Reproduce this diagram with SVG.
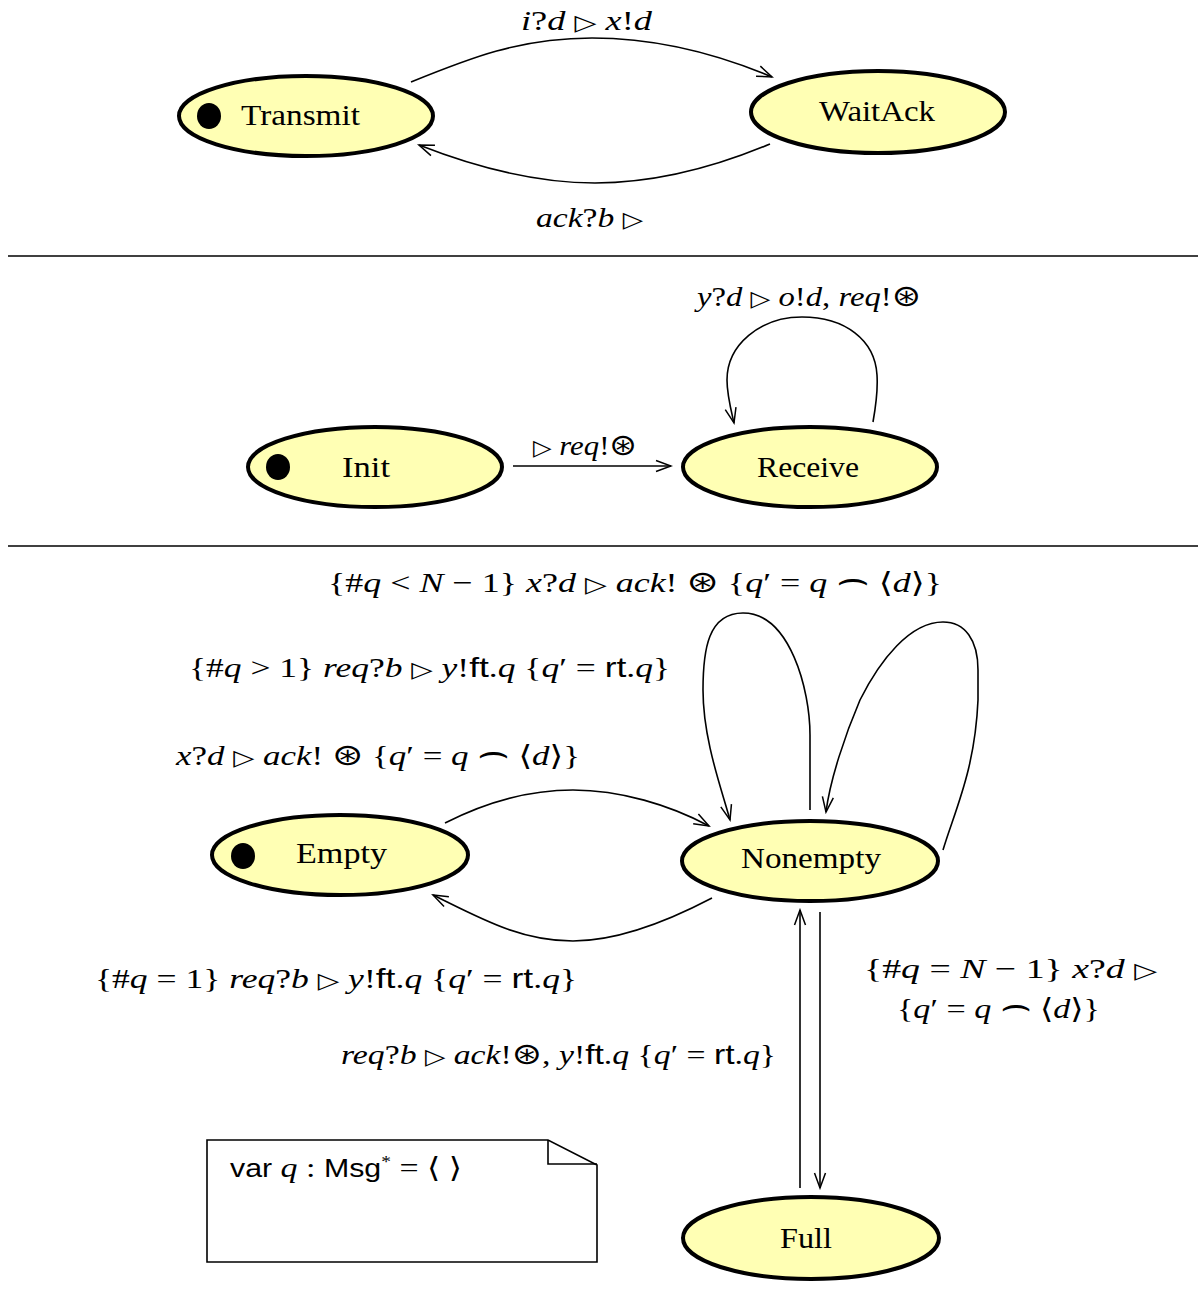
<svg xmlns="http://www.w3.org/2000/svg" width="1198" height="1316" viewBox="0 0 1198 1316">
<style>
.node ellipse.b{fill:#ffffb4;stroke:#000;stroke-width:4}
.dot{fill:#000}
.lbl{font-family:"Liberation Serif","DejaVu Serif",serif;font-size:30px;fill:#000}
.m{font-family:"Liberation Serif","DejaVu Serif",serif;font-size:28px;fill:#000}
.i{font-style:italic}
.sf{font-family:"Liberation Sans","DejaVu Sans",sans-serif}
.sym{font-family:"DejaVu Sans","DejaVu Serif",sans-serif;font-size:22px}
.ost{font-family:"DejaVu Sans","DejaVu Serif",sans-serif;font-size:30px}
.frown{font-family:"DejaVu Sans","DejaVu Serif",sans-serif;font-size:40px}
.edge{fill:none;stroke:#000;stroke-width:1.6}
.sep{stroke:#000;stroke-width:1.6}
.note{fill:#fff;stroke:#000;stroke-width:1.6}
</style>
<defs>
<marker id="arr" markerWidth="18" markerHeight="14" refX="16" refY="7" orient="auto" markerUnits="userSpaceOnUse">
<path d="M1,1.5 L16,7 L1,12.5" fill="none" stroke="#000" stroke-width="1.5"/>
</marker>
</defs>
<rect width="1198" height="1316" fill="#fff"/>

<line class="sep" x1="8" y1="256" x2="1198" y2="256"/>
<line class="sep" x1="8" y1="546" x2="1198" y2="546"/>

<g id="connectors">
<path class="edge" marker-end="url(#arr)" d="M411,82 C470,58 520,38 592,38 C660,38 720,55 772,77"/>
<path class="edge" marker-end="url(#arr)" d="M770,144 C720,165 660,183 595,183 C530,183 470,165 419,145"/>
<path class="edge" marker-end="url(#arr)" d="M513,466 L671,466"/>
<path class="edge" marker-end="url(#arr)" d="M873,422 C876,405 878,390 877,375 C875,340 845,317 802,317 C760,317 727,345 727,380 C727,395 731,410 734,423"/>
<path class="edge" marker-end="url(#arr)" d="M445,823 C490,800 530,790 573,790 C620,790 670,805 709,826"/>
<path class="edge" marker-end="url(#arr)" d="M712,898 C670,920 620,941 573,941 C520,941 480,918 433,895"/>
<path class="edge" marker-end="url(#arr)" d="M810,810 L810,735 C810,690 790,613 743,613 C708,613 703,650 703,690 C703,740 722,790 730,820"/>
<path class="edge" marker-end="url(#arr)" d="M943,850 C955,810 975,770 978,700 L978,670 C978,640 965,622 943,622 C910,622 880,660 860,700 C845,735 830,780 826,812"/>
<path class="edge" marker-end="url(#arr)" d="M800,1188 L800,910"/>
<path class="edge" marker-end="url(#arr)" d="M820,912 L820,1188"/>
</g>

<g id="edge-labels">
<text class="m" x="521" y="30" textLength="131" lengthAdjust="spacingAndGlyphs"><tspan class="i">i</tspan>?<tspan class="i">d</tspan> <tspan class="sym">▷</tspan> <tspan class="i">x</tspan>!<tspan class="i">d</tspan></text>
<text class="m" x="536" y="227" textLength="107" lengthAdjust="spacingAndGlyphs"><tspan class="i">ack</tspan>?<tspan class="i">b</tspan> <tspan class="sym">▷</tspan></text>
<text class="m" x="697" y="306" textLength="224" lengthAdjust="spacingAndGlyphs"><tspan class="i">y</tspan>?<tspan class="i">d</tspan> <tspan class="sym">▷</tspan> <tspan class="i">o</tspan>!<tspan class="i">d</tspan>, <tspan class="i">req</tspan>!<tspan class="ost">⊛</tspan></text>
<text class="m" x="533" y="455" textLength="104" lengthAdjust="spacingAndGlyphs"><tspan class="sym">▷</tspan> <tspan class="i">req</tspan>!<tspan class="ost">⊛</tspan></text>
<text class="m" x="328" y="592" textLength="614" lengthAdjust="spacingAndGlyphs">{#<tspan class="i">q</tspan> &lt; <tspan class="i">N</tspan> − 1} <tspan class="i">x</tspan>?<tspan class="i">d</tspan> <tspan class="sym">▷</tspan> <tspan class="i">ack</tspan>! <tspan class="ost">⊛</tspan>  {<tspan class="i">q</tspan>′ = <tspan class="i">q</tspan> <tspan class="frown">⌢</tspan> ⟨<tspan class="i">d</tspan>⟩}</text>
<text class="m" x="189" y="677" textLength="481" lengthAdjust="spacingAndGlyphs">{#<tspan class="i">q</tspan> &gt; 1} <tspan class="i">req</tspan>?<tspan class="i">b</tspan> <tspan class="sym">▷</tspan> <tspan class="i">y</tspan>!<tspan class="sf">ft</tspan>.<tspan class="i">q</tspan> {<tspan class="i">q</tspan>′ = <tspan class="sf">rt</tspan>.<tspan class="i">q</tspan>}</text>
<text class="m" x="176" y="765" textLength="404" lengthAdjust="spacingAndGlyphs"><tspan class="i">x</tspan>?<tspan class="i">d</tspan> <tspan class="sym">▷</tspan> <tspan class="i">ack</tspan>! <tspan class="ost">⊛</tspan>  {<tspan class="i">q</tspan>′ = <tspan class="i">q</tspan> <tspan class="frown">⌢</tspan> ⟨<tspan class="i">d</tspan>⟩}</text>
<text class="m" x="95" y="988" textLength="482" lengthAdjust="spacingAndGlyphs">{#<tspan class="i">q</tspan> = 1} <tspan class="i">req</tspan>?<tspan class="i">b</tspan> <tspan class="sym">▷</tspan> <tspan class="i">y</tspan>!<tspan class="sf">ft</tspan>.<tspan class="i">q</tspan> {<tspan class="i">q</tspan>′ = <tspan class="sf">rt</tspan>.<tspan class="i">q</tspan>}</text>
<text class="m" x="864" y="978" textLength="293" lengthAdjust="spacingAndGlyphs">{#<tspan class="i">q</tspan> = <tspan class="i">N</tspan> − 1} <tspan class="i">x</tspan>?<tspan class="i">d</tspan> <tspan class="sym">▷</tspan></text>
<text class="m" x="897" y="1018" textLength="203" lengthAdjust="spacingAndGlyphs">{<tspan class="i">q</tspan>′ = <tspan class="i">q</tspan> <tspan class="frown">⌢</tspan> ⟨<tspan class="i">d</tspan>⟩}</text>
<text class="m" x="341" y="1064" textLength="435" lengthAdjust="spacingAndGlyphs"><tspan class="i">req</tspan>?<tspan class="i">b</tspan> <tspan class="sym">▷</tspan> <tspan class="i">ack</tspan>!<tspan class="ost">⊛</tspan>, <tspan class="i">y</tspan>!<tspan class="sf">ft</tspan>.<tspan class="i">q</tspan> {<tspan class="i">q</tspan>′ = <tspan class="sf">rt</tspan>.<tspan class="i">q</tspan>}</text>
</g>

<g id="node-transmit" class="node">
<ellipse class="b" cx="306" cy="116" rx="127" ry="40"/>
<ellipse class="dot" cx="209" cy="116" rx="12" ry="13"/>
<text class="lbl" x="241" y="125" textLength="119" lengthAdjust="spacingAndGlyphs">Transmit</text>
</g>
<g id="node-waitack" class="node">
<ellipse class="b" cx="878" cy="112" rx="127" ry="41"/>
<text class="lbl" x="819" y="121" textLength="116" lengthAdjust="spacingAndGlyphs">WaitAck</text>
</g>
<g id="node-init" class="node">
<ellipse class="b" cx="375" cy="467" rx="127" ry="40"/>
<ellipse class="dot" cx="278" cy="467" rx="12" ry="13"/>
<text class="lbl" x="342" y="477" textLength="48" lengthAdjust="spacingAndGlyphs">Init</text>
</g>
<g id="node-receive" class="node">
<ellipse class="b" cx="810" cy="467" rx="127" ry="40"/>
<text class="lbl" x="757" y="477" textLength="102" lengthAdjust="spacingAndGlyphs">Receive</text>
</g>
<g id="node-empty" class="node">
<ellipse class="b" cx="340" cy="855" rx="128" ry="40"/>
<ellipse class="dot" cx="243" cy="856" rx="12" ry="13"/>
<text class="lbl" x="296" y="863" textLength="91" lengthAdjust="spacingAndGlyphs">Empty</text>
</g>
<g id="node-nonempty" class="node">
<ellipse class="b" cx="810" cy="861" rx="128" ry="40"/>
<text class="lbl" x="741" y="868" textLength="140" lengthAdjust="spacingAndGlyphs">Nonempty</text>
</g>
<g id="node-full" class="node">
<ellipse class="b" cx="811" cy="1238" rx="128" ry="41"/>
<text class="lbl" x="780" y="1248" textLength="52" lengthAdjust="spacingAndGlyphs">Full</text>
</g>

<g id="note">
<path class="note" d="M207,1140 L548,1140 L597,1165 L597,1262 L207,1262 Z"/>
<path class="edge" d="M548,1140 L548,1164 L597,1164"/>
<text class="m" x="230" y="1177" textLength="232" lengthAdjust="spacingAndGlyphs"><tspan class="sf" font-size="25">var</tspan>  <tspan class="i">q</tspan> : <tspan class="sf" font-size="25">Msg</tspan><tspan font-size="16" dy="-10">*</tspan><tspan dy="10"> = ⟨ ⟩</tspan></text>
</g>
</svg>
